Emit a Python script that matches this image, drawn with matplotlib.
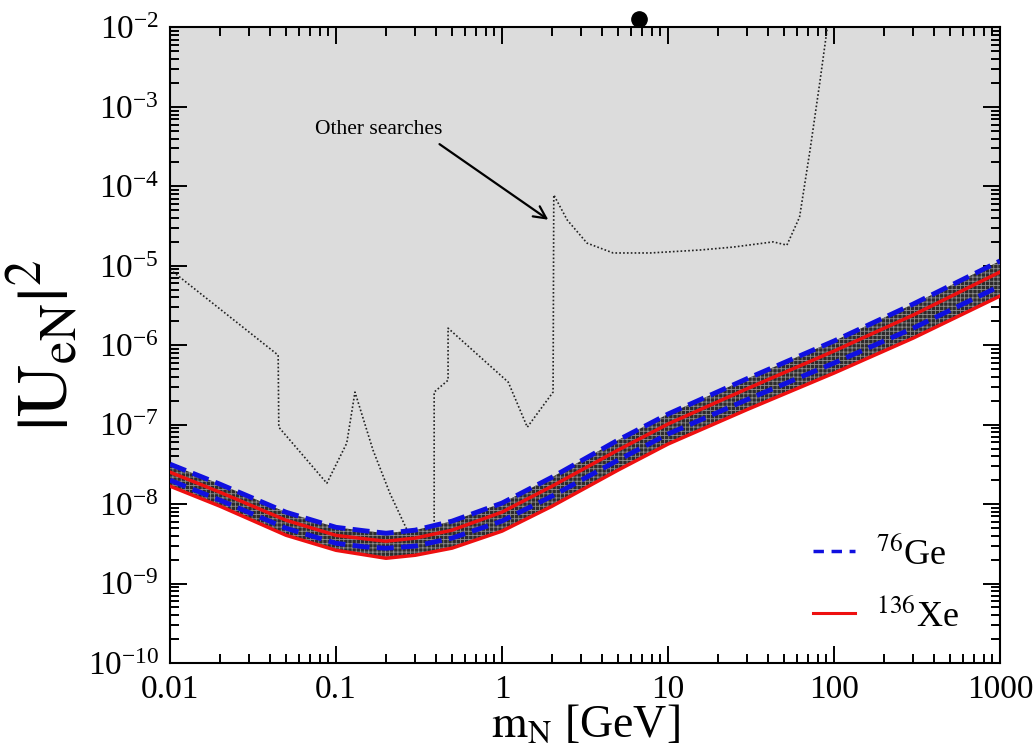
import matplotlib
matplotlib.use('Agg')
import matplotlib.pyplot as plt
from matplotlib.lines import Line2D
from matplotlib.ticker import (LogLocator, FixedLocator, FixedFormatter, NullFormatter,
                               LogFormatterSciNotation)

plt.rcParams['font.family'] = ['Liberation Serif', 'DejaVu Serif']
plt.rcParams['mathtext.fontset'] = 'stix'
plt.rcParams['hatch.linewidth'] = 0.6

# heavy neutrino mass [GeV]
m_band = [0.01, 0.02, 0.05, 0.1, 0.15, 0.2, 0.3, 0.5, 1, 2, 5, 10, 30, 100, 300, 1000]
# 76Ge band (blue dashed), upper and lower edge
ge_upper = [3.18e-8, 1.78e-8, 7.9e-9, 5.1e-9, 4.6e-9, 4.3e-9, 4.7e-9, 6.1e-9,
            1.03e-8, 2.18e-8, 6.4e-8, 1.36e-7, 3.8e-7, 1.13e-6, 3.3e-6, 1.15e-5]
ge_lower = [2.0e-8, 1.12e-8, 4.97e-9, 3.21e-9, 2.89e-9, 2.78e-9, 2.96e-9, 3.73e-9,
            6.12e-9, 1.26e-8, 3.58e-8, 7.62e-8, 2.07e-7, 5.97e-7, 1.64e-6, 5.57e-6]
# 136Xe band (red solid), upper and lower edge
xe_upper = [2.52e-8, 1.41e-8, 6.26e-9, 4.04e-9, 3.65e-9, 3.41e-9, 3.73e-9, 4.70e-9,
            7.93e-9, 1.68e-8, 4.79e-8, 1.02e-7, 2.84e-7, 8.45e-7, 2.40e-6, 8.36e-6]
xe_lower = [1.68e-8, 9.4e-9, 4.05e-9, 2.62e-9, 2.29e-9, 2.08e-9, 2.27e-9, 2.79e-9,
            4.57e-9, 9.4e-9, 2.68e-8, 5.70e-8, 1.55e-7, 4.46e-7, 1.23e-6, 4.16e-6]

# other searches (dotted)
m_other = [0.01, 0.0448, 0.0452, 0.088, 0.116, 0.13, 0.167, 0.211, 0.268, 0.32, 0.39,
           0.39, 0.473, 0.473, 1.09, 1.42, 2.03, 2.05, 2.47, 3.25, 4.67, 7.8, 15.6,
           24.7, 43, 52, 62, 71.7, 82, 90.7, 93]
u_other = [9.0e-6, 7.5e-7, 9.3e-8, 1.83e-8, 5.85e-8, 2.57e-7, 4.78e-8, 1.37e-8, 4.7e-9,
           3.0e-9, 3.0e-9, 2.57e-7, 3.63e-7, 1.64e-6, 3.43e-7, 9.3e-8, 2.57e-7, 7.8e-5,
           3.77e-5, 1.93e-5, 1.45e-5, 1.45e-5, 1.58e-5, 1.72e-5, 2.0e-5, 1.82e-5,
           4.1e-5, 2.86e-4, 2.0e-3, 9.3e-3, 1.3e-2]

x_ticks = [0.01, 0.1, 1, 10, 100, 1000]
x_ticklabels = ['0.01', '0.1', '1', '10', '100', '1000']
y_ticks = [1e-10, 1e-9, 1e-8, 1e-7, 1e-6, 1e-5, 1e-4, 1e-3, 1e-2]

fig = plt.figure(figsize=(10.35, 7.55), dpi=100)
ax = fig.add_axes([0.1643, 0.1219, 0.8019, 0.8417])
ax.set_xscale('log')
ax.set_yscale('log')
ax.set_xlim(0.01, 1000)
ax.set_ylim(1e-10, 1e-2)

# excluded region above the bands
ax.fill_between(m_band, ge_upper, 1e-2, color='#dcdcdc', lw=0, zorder=1)
ax.plot(m_other, u_other, color='#222222', lw=1.2, ls=(0, (1, 1.3)), zorder=2)

# hatched band
ax.fill_between(m_band, xe_lower, ge_upper, facecolor='#2c2c2c', edgecolor='#8c8c8c',
                hatch='++++', lw=0, zorder=3)

ax.plot(m_band, ge_upper, color='#1010e0', lw=3.5, dashes=(3.5, 1.5), zorder=4)
ax.plot(m_band, ge_lower, color='#1010e0', lw=3.5, dashes=(3.5, 1.5), zorder=4)
ax.plot(m_band, xe_upper, color='#ee1010', lw=2.5, zorder=5)
ax.plot(m_band, xe_lower, color='#ee1010', lw=2.5, zorder=5)

ax.text(0.18, 5.2e-4, 'Other searches', fontsize=15.5, ha='center', va='center')
ax.annotate('', xy=(1.9, 3.8e-5), xytext=(0.42, 3.4e-4),
            arrowprops=dict(arrowstyle='->', color='black', lw=1.6,
                            mutation_scale=22, shrinkA=0, shrinkB=0))

# stray dot above the frame
ax.plot([6.7], [1.28e-2], 'o', color='black', ms=11, clip_on=False, zorder=6)

ax.xaxis.set_major_locator(FixedLocator(x_ticks))
ax.xaxis.set_major_formatter(FixedFormatter(x_ticklabels))
ax.xaxis.set_minor_locator(LogLocator(base=10, subs=range(2, 10), numticks=20))
ax.xaxis.set_minor_formatter(NullFormatter())
ax.yaxis.set_major_locator(FixedLocator(y_ticks))
ax.yaxis.set_major_formatter(LogFormatterSciNotation())
ax.yaxis.set_minor_locator(LogLocator(base=10, subs=range(2, 10), numticks=20))
ax.yaxis.set_minor_formatter(NullFormatter())

ax.tick_params(which='both', direction='in', top=True, right=True, width=1.4)
ax.tick_params(which='major', length=12, labelsize=24, pad=8)
ax.tick_params(which='minor', length=6.5)
for s in ax.spines.values():
    s.set_linewidth(1.5)

ax.set_xlabel(r'$\mathrm{m_N}$ [GeV]', fontsize=33, labelpad=0)
ax.set_ylabel(r'$\mathrm{|U_{eN}|^2}$', fontsize=52, labelpad=4)

handles = [Line2D([], [], color='#1010e0', lw=2.5, dashes=(3, 2.2)),
           Line2D([], [], color='#ee1010', lw=2.2)]
ax.legend(handles, [r'$^{76}$Ge', r'$^{136}$Xe'], loc='lower right', frameon=False,
          fontsize=26, handlelength=1.15, handletextpad=0.6, labelspacing=0.75,
          bbox_to_anchor=(0.99, -0.005))

fig.savefig('out.png', dpi=100)
